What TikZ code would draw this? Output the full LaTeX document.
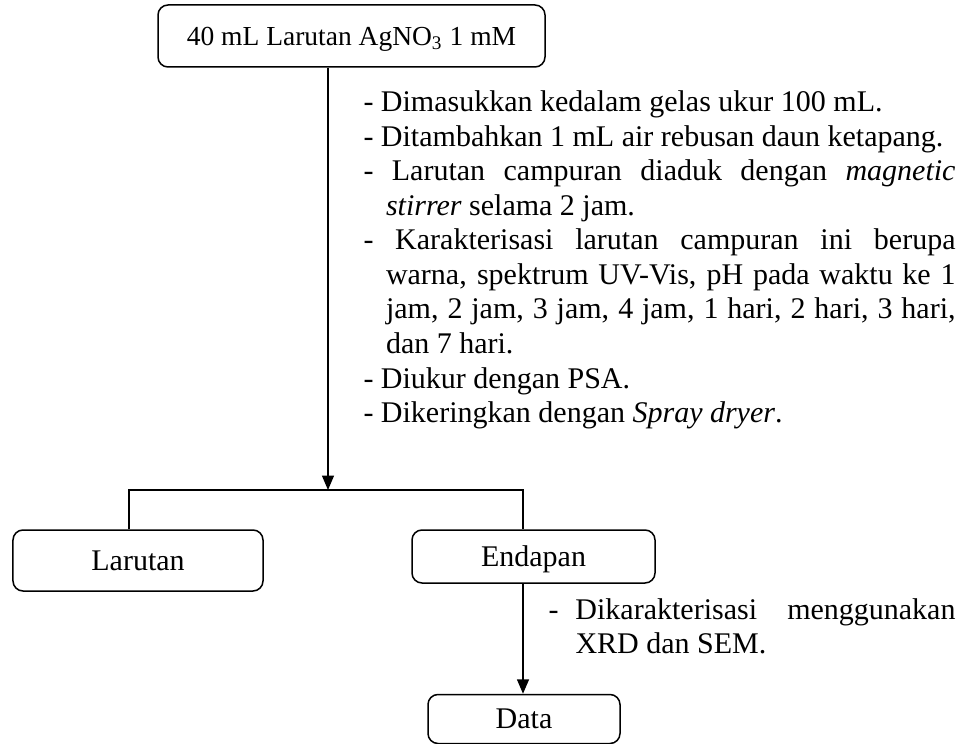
\documentclass[tikz,border=0pt]{standalone}
\usepackage{fontspec}
\setmainfont{Liberation Serif}
\usetikzlibrary{arrows.meta}
\tikzset{
    %Define standard arrow tip
    >={Triangle[length=5.8pt,width=4.8pt]},
    %Define style for boxes
    kotak/.style={
           rectangle,
           rounded corners=4pt,
           draw=black, line width=0.6pt,
           inner sep=0pt,
           text height=7.9pt, text depth=0pt,
           font=\fontsize{12}{13.8}\selectfont},
    % Define line and arrow style
    garis/.style={draw=black, line width=0.6pt},
    panah/.style={
           ->,
           draw=black,
           line width=0.6pt},
    % Define style for the notes
    catatan/.style={anchor=base west, inner sep=0pt,
           font=\fontsize{12}{13.8}\selectfont}
}

\begin{document}
\begin{tikzpicture}[x=0.4pt,y=-0.4pt]
  \useasboundingbox (0,0) rectangle (957,744);
  % boxes
  \node[kotak, minimum width=154.8pt, minimum height=24.8pt, text height=7.3pt,
        font=\fontsize{11}{13}\selectfont] (agno) at (351.5,36)
        {40 mL Larutan AgNO\textsubscript{3} 1 mM};
  \node[kotak, minimum width=100pt, minimum height=24.4pt] (larutan) at (138,560.5) {Larutan};
  \node[kotak, minimum width=97.2pt, minimum height=21.2pt] (endapan) at (533.5,556.5) {Endapan};
  \node[kotak, minimum width=76.8pt, minimum height=19.6pt] (data) at (524,719) {Data};
  % branch points
  \coordinate (pisah) at (328,490);
  \coordinate (kiri) at (129,490);
  \coordinate (kanan) at (523,490);
  % connectors
  \draw[panah] (agno.south -| pisah) -- (pisah);
  \draw[garis] (larutan.north -| kiri) -- (kiri) -- (kanan) -- (endapan.north -| kanan);
  \draw[panah] (endapan.south -| kanan) -- (data.north -| kanan);
  % notes
  \node[catatan] (ket1) at (363,112) {\begin{minipage}[t]{236.8pt}
    \parskip=0pt
    \hangindent=9pt\hangafter=1 - Dimasukkan kedalam gelas ukur 100 mL.\par
    \hangindent=9pt\hangafter=1 - Ditambahkan 1 mL air rebusan daun ketapang.\par
    \hangindent=9pt\hangafter=1 - Larutan campuran diaduk dengan \textit{magnetic}\linebreak
      \textit{stirrer} selama 2 jam.\par
    \hangindent=9pt\hangafter=1 - Karakterisasi larutan campuran ini berupa\linebreak
      warna, spektrum UV-Vis, pH pada waktu ke 1\linebreak
      jam, 2 jam, 3 jam, 4 jam, 1 hari, 2 hari, 3 hari,\linebreak
      dan 7 hari.\par
    \hangindent=9pt\hangafter=1 - Diukur dengan PSA.\par
    \hangindent=9pt\hangafter=1 - Dikeringkan dengan \textit{Spray dryer}.
  \end{minipage}};
  \node[catatan] (ket2) at (548,619) {\begin{minipage}[t]{162.8pt}
    \hangindent=10.8pt\hangafter=1 \makebox[10.8pt][l]{-}Dikarakterisasi menggunakan\linebreak
      XRD dan SEM.
  \end{minipage}};
\end{tikzpicture}
\end{document}
